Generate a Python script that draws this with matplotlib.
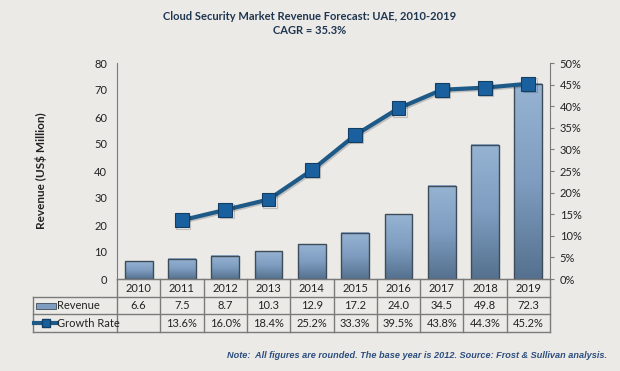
import matplotlib
matplotlib.use('Agg')
import matplotlib.pyplot as plt
import matplotlib.patheffects as pe
from matplotlib.patches import Rectangle
import numpy as np

plt.rcParams['font.family'] = ['Lato', 'DejaVu Sans']

years = ['2010', '2011', '2012', '2013', '2014', '2015', '2016', '2017', '2018', '2019']
revenue = [6.6, 7.5, 8.7, 10.3, 12.9, 17.2, 24.0, 34.5, 49.8, 72.3]
growth = [np.nan, 13.6, 16.0, 18.4, 25.2, 33.3, 39.5, 43.8, 44.3, 45.2]
rev_ticks = [0, 10, 20, 30, 40, 50, 60, 70, 80]
growth_ticks = [0, 5, 10, 15, 20, 25, 30, 35, 40, 45, 50]

bg = '#ECEAE7'
navy = '#1E5A88'
grid_col = '#7A7A7A'
txt = '#222222'

W, H = 620, 371
fig = plt.figure(figsize=(6.2, 3.71), dpi=100, facecolor=bg)


def box(x0, y0, x1, y1):
    # pixel box (from top-left) -> figure fraction
    return [x0 / W, 1 - y1 / H, (x1 - x0) / W, (y1 - y0) / H]


ax = fig.add_axes(box(117, 63, 550, 279))
ax.set_facecolor(bg)
x = np.arange(len(years))

bars = ax.bar(x, revenue, width=0.64, color='none', edgecolor='none', zorder=2)
grad = np.linspace(0, 1, 100).reshape(-1, 1)
cmap = matplotlib.colors.LinearSegmentedColormap.from_list('b', ['#55718F', '#7E9DC0', '#96B3D2'])
for b in bars:
    x0, w, h = b.get_x(), b.get_width(), b.get_height()
    ax.imshow(grad, extent=(x0, x0 + w, 0, h), origin='lower', cmap=cmap,
              aspect='auto', zorder=2)
    ax.add_patch(Rectangle((x0, 0), w, h, fill=False, edgecolor='#3E4B58', lw=1.0, zorder=3))

ax.set_xlim(-0.5, 9.5)
ax.set_ylim(0, 80)
ax.set_yticks(rev_ticks)
ax.set_xticks([])
ax.tick_params(axis='y', length=0, pad=7, labelsize=8, labelcolor=txt)
for s in ['top', 'right']:
    ax.spines[s].set_visible(False)
ax.spines['left'].set_color(grid_col)
ax.spines['bottom'].set_color(grid_col)
ax.set_ylabel('Revenue (US$ Million)', fontsize=8.5, fontweight='bold', color=txt, labelpad=34)

ax2 = ax.twinx()
ax2.set_ylim(0, 50)
ax2.set_yticks(growth_ticks)
ax2.set_yticklabels([f'{g}%' for g in growth_ticks])
ax2.tick_params(axis='y', length=3, pad=4, labelsize=8, labelcolor=txt, color=grid_col)
for s in ['top', 'left', 'bottom']:
    ax2.spines[s].set_visible(False)
ax2.spines['right'].set_color(grid_col)
ax2.plot(x, growth, color=navy, lw=3.0, marker='s', markersize=10,
         markerfacecolor='#1B609E', markeredgecolor='#123E66', markeredgewidth=0.8,
         zorder=5, path_effects=[pe.SimpleLineShadow(offset=(1, -1), alpha=0.18), pe.Normal()])

# data table under the axis
tax = fig.add_axes(box(117, 279, 550, 332))
tax.set_xlim(-0.5, 9.5)
tax.set_ylim(3, 0)
tax.axis('off')
xl = -0.5 - 84 / 43.3
lk = dict(color=grid_col, lw=1, clip_on=False)
tax.plot([-0.5, 9.5], [0, 0], **lk)
for yy in [1, 2, 3]:
    tax.plot([xl, 9.5], [yy, yy], **lk)
for k in range(11):
    tax.plot([k - 0.5, k - 0.5], [0, 3], **lk)
tax.plot([xl, xl], [1, 3], **lk)

for i in range(len(years)):
    tax.text(i, 0.52, years[i], ha='center', va='center', fontsize=8, color=txt)
    tax.text(i, 1.52, f'{revenue[i]:.1f}', ha='center', va='center', fontsize=8, color=txt)
    if not np.isnan(growth[i]):
        tax.text(i, 2.52, f'{growth[i]:.1f}%', ha='center', va='center', fontsize=8, color=txt)

tax.add_patch(Rectangle((xl + 0.07, 1.35), 0.45, 0.35, facecolor='#7E9DC0',
                        edgecolor='#3E4B58', lw=0.6, clip_on=False))
tax.text(-1.88, 1.52, 'Revenue', ha='left', va='center', fontsize=8, color=txt)
tax.plot([xl + 0.02, xl + 0.56], [2.5, 2.5], color=navy, lw=3, clip_on=False)
tax.plot([xl + 0.29], [2.5], marker='s', markersize=6, color='#1B609E',
         markeredgecolor='#123E66', clip_on=False)
tax.text(-1.88, 2.52, 'Growth Rate', ha='left', va='center', fontsize=8, color=txt)

fig.text(310 / W, 1 - 16 / H, 'Cloud Security Market Revenue Forecast: UAE, 2010-2019',
         ha='center', va='center', fontsize=8, fontweight='bold', color='#1E3550')
fig.text(310 / W, 1 - 30 / H, 'CAGR = 35.3%', ha='center', va='center',
         fontsize=8, fontweight='bold', color='#1E3550')
fig.text(607 / W, 1 - 355 / H,
         'Note:  All figures are rounded. The base year is 2012. Source: Frost & Sullivan analysis.',
         ha='right', va='center', fontsize=6.6, fontweight='bold', style='italic',
         color='#2C4E7E', family=['Liberation Sans', 'DejaVu Sans'])

fig.savefig('out.png', dpi=100, facecolor=bg)
